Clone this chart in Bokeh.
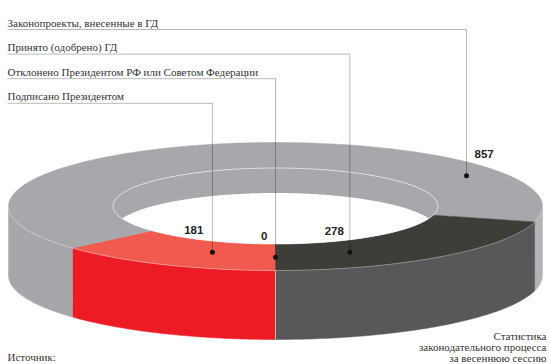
import numpy as np
from bokeh.plotting import figure
from bokeh.models import Range1d
from bokeh.core.properties import value
from bokeh.embed import file_html
from bokeh.resources import INLINE

# ---------------- data ----------------
categories = [
    "Законопроекты, внесенные в ГД",
    "Принято (одобрено) ГД",
    "Отклонено Президентом РФ или Советом Федерации",
    "Подписано Президентом",
]
values = [857, 278, 0, 181]
value_labels = ["857", "278", "0", "181"]
title_lines = ["Статистика", "законодательного процесса", "за весеннюю сессию"]
source_label = "Источник:"

# ---------------- style / layout ----------------
draw_order = [3, 0, 1, 2]          # clockwise from the bottom of the ring
top_colors = ["#a7a8ac", "#3f3d37", "#3f3d37", "#f15a4f"]
side_left_colors = ["#a6a7ab", "#58585a", "#58585a", "#ed1c24"]
side_right_colors = ["#b3b4b7", "#58585a", "#58585a", "#ed1c24"]
anchor_deg = [34, 291, 270, 252]
anchor_frac = [0.65, 0.43, 0.5, 0.4]
label_dx = [8, -6, -8, -9]
label_dy = [-22, -21, -21, -22]
label_align = ["left", "right", "right", "right"]

CX, CY = 275.0, 206.0
RX, RY = 267.0, 64.0        # outer ellipse
IRX, IRY, ICY = 162.5, 38.0, 205.5   # inner ellipse
DEPTH = 69.0
HOLE_DEPTH = 25.0

W, H = 550, 364
p = figure(width=W, height=H, output_backend="svg", toolbar_location=None,
           x_range=Range1d(0, W), y_range=Range1d(H, 0), min_border=0)
p.axis.visible = False
p.grid.visible = False
p.outline_line_color = None
p.background_fill_color = "white"

total = float(sum(values))
spans = {}
cur = 270.0
for i in draw_order:
    sp = values[i] / total * 360.0
    spans[i] = (cur - sp, cur)
    cur -= sp


def outer_pt(t):
    r = np.radians(t)
    return CX + RX * np.cos(r), CY - RY * np.sin(r)


def inner_pt(t):
    r = np.radians(t)
    return CX + IRX * np.cos(r), ICY - IRY * np.sin(r)


# ---- outer side walls (front half only) ----
side_xs, side_ys, side_c = [], [], []
for i in draw_order:
    lo, hi = spans[i]
    if hi - lo <= 0:
        continue
    for base in (-360.0, 0.0, 360.0):
        a, b = max(lo, base + 180.0), min(hi, base + 360.0)
        if b - a <= 0:
            continue
        t = np.linspace(a, b, 80)
        x, y = outer_pt(t)
        side_xs.append(list(np.concatenate([x, x[::-1]])))
        side_ys.append(list(np.concatenate([y, (y + DEPTH)[::-1]])))
        mid = np.radians((a + b) / 2)
        side_c.append(side_right_colors[i] if np.cos(mid) > 0.5 else side_left_colors[i])
p.patches(side_xs, side_ys, fill_color=side_c, line_color=side_c, line_width=0.5)

# ---- top faces ----
top_xs, top_ys, top_c = [], [], []
for i in draw_order:
    lo, hi = spans[i]
    if hi - lo <= 0:
        continue
    t = np.linspace(lo, hi, 200)
    ox, oy = outer_pt(t)
    ix, iy = inner_pt(t[::-1])
    top_xs.append(list(np.concatenate([ox, ix])))
    top_ys.append(list(np.concatenate([oy, iy])))
    top_c.append(top_colors[i])
p.patches(top_xs, top_ys, fill_color=top_c, line_color=top_c, line_width=0.5)

# ---- hole: inner back wall + see-through area ----
tt = np.linspace(0, 360, 240)
hx, hy = inner_pt(tt)
p.patch(list(hx), list(hy), fill_color=top_colors[0], line_color=None)
s_min = HOLE_DEPTH / (2 * IRY)
xmax = IRX * np.sqrt(1 - s_min ** 2)
xx = np.linspace(-xmax, xmax, 200)
ss = np.sqrt(np.clip(1 - (xx / IRX) ** 2, 0, 1))
upper = ICY + HOLE_DEPTH - IRY * ss
lower = ICY + IRY * ss
p.patch(list(np.concatenate([CX + xx, (CX + xx)[::-1]])),
        list(np.concatenate([upper, lower[::-1]])),
        fill_color="white", line_color=None)

# ---- highlight edges ----
p.line(list(hx), list(hy), line_color="white", line_alpha=0.75, line_width=0.8)
tf = np.linspace(180, 360, 150)
fx, fy = outer_pt(tf)
p.line(list(fx), list(fy), line_color="white", line_alpha=0.45, line_width=0.8)
vx, vy = outer_pt(np.array([270.0]))
p.line([vx[0], vx[0]], [vy[0], vy[0] + DEPTH], line_color="white", line_alpha=0.7, line_width=0.8)

# ---- leader lines, dots, labels ----
rows_y = [29.0 + 24.6 * k for k in range(len(categories))]
lx, ly, dx_, dy_ = [], [], [], []
for i in range(len(categories)):
    f = anchor_frac[i]
    rx = IRX + f * (RX - IRX)
    ry = IRY + f * (RY - IRY)
    cy = ICY + f * (CY - ICY)
    a = np.radians(anchor_deg[i])
    px, py = CX + rx * np.cos(a), cy - ry * np.sin(a)
    dx_.append(px)
    dy_.append(py)
    lx.append([7, px, px])
    ly.append([rows_y[i], rows_y[i], py])
p.multi_line(lx, ly, line_color="black", line_alpha=0.28, line_width=1)
p.scatter(dx_, dy_, size=5, fill_color="#111111", line_color=None)

p.text(x=[7] * len(categories), y=[r - 7 for r in rows_y], text=categories,
       text_font=value("Liberation Sans Narrow"), text_font_size="11px",
       text_color="#333333", text_align="left", text_baseline="middle")

for i in range(len(categories)):
    p.text(x=[dx_[i] + label_dx[i]], y=[dy_[i] + label_dy[i]], text=[value_labels[i]],
           text_font=value("Liberation Sans"), text_font_style="bold",
           text_font_size="11.5px", text_color="#222222",
           text_align=label_align[i], text_baseline="middle")

p.text(x=[546] * 3, y=[335, 346, 357], text=title_lines,
       text_font=value("Liberation Sans Narrow"), text_font_size="11px",
       text_color="#333333", text_align="right", text_baseline="middle")
p.text(x=[7], y=[356], text=[source_label],
       text_font=value("Liberation Sans Narrow"), text_font_size="11px",
       text_color="#333333", text_align="left", text_baseline="middle")

open("out.html", "w").write(file_html(p, INLINE))
